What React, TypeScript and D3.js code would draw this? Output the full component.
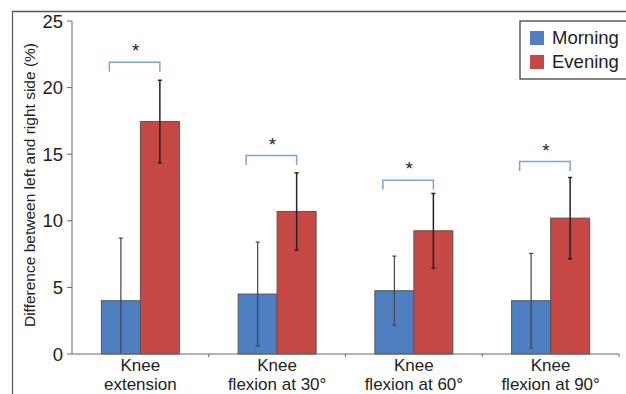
import React from "react";
import * as d3 from "d3";

const categories = [["Knee", "extension"], ["Knee", "flexion at 30°"], ["Knee", "flexion at 60°"], ["Knee", "flexion at 90°"]];
const morning = [4.0, 4.5, 4.75, 4.0];
const morningErr = [4.7, 3.9, 2.6, 3.55];
const evening = [17.45, 10.7, 9.25, 10.2];
const eveningErr = [3.1, 2.9, 2.8, 3.05];
const bracketLevels = [21.9, 14.9, 13.05, 14.45];
const yTicks = [0, 5, 10, 15, 20, 25];
const seriesNames = ["Morning", "Evening"];

const W = 626, H = 394;
const BLUE = "#4d7fc1";
const RED = "#c64845";
const FONT = "'Liberation Sans', Arial, Helvetica, sans-serif";

export default function App() {
  const x = d3.scaleBand<number>().domain(d3.range(categories.length)).range([72, 619]).paddingInner(0).paddingOuter(0);
  const y = d3.scaleLinear().domain([0, 25]).range([354, 21]);
  const barW = 39;
  const bottom = y(0);

  return (
    <svg width={W} height={H} style={{ position: "absolute", left: 0, top: 0, background: "#fff" }} fontFamily={FONT}>
      {/* frame */}
      <line x1={12} y1={11.5} x2={W} y2={11.5} stroke="#555" strokeWidth={1.5} />
      <line x1={12.5} y1={11} x2={12.5} y2={H} stroke="#555" strokeWidth={1.2} />

      {/* y label */}
      <text transform={`translate(35,185) rotate(-90)`} textAnchor="middle" fontSize={15.5} fill="#222">
        Difference between left and right side (%)
      </text>

      {/* y axis */}
      <line x1={72} y1={y(25)} x2={72} y2={bottom} stroke="#666" strokeWidth={1} />
      {yTicks.map((t) => (
        <g key={t}>
          <line x1={67} x2={72} y1={y(t)} y2={y(t)} stroke="#666" />
          <text x={63} y={y(t)} dy="0.36em" textAnchor="end" fontSize={18.5} fill="#222">{t}</text>
        </g>
      ))}

      {/* bars */}
      {categories.map((c, i) => {
        const cx = x(i)! + x.bandwidth() / 2;
        const bx = cx - barW;
        const rx = cx;
        const bc = bx + barW / 2;
        const rc = rx + barW / 2;
        const mTop = y(morning[i] + morningErr[i]);
        const mBot = y(Math.max(0, morning[i] - morningErr[i]));
        const eTop = y(evening[i] + eveningErr[i]);
        const eBot = y(evening[i] - eveningErr[i]);
        const bl = y(bracketLevels[i]);
        const bL = cx - 31;
        const bR = cx + 19.5;
        return (
          <g key={i}>
            <rect x={bx} y={y(morning[i])} width={barW} height={bottom - y(morning[i])} fill={BLUE} stroke="#555" strokeWidth={1} />
            <rect x={rx} y={y(evening[i])} width={barW} height={bottom - y(evening[i])} fill={RED} stroke="#555" strokeWidth={1} />
            {/* morning error */}
            <line x1={bc} x2={bc} y1={mTop} y2={mBot} stroke="#444" strokeWidth={1.2} />
            <line x1={bc - 2} x2={bc + 2} y1={mTop} y2={mTop} stroke="#444" strokeWidth={1.2} />
            {morning[i] - morningErr[i] > 0 && (
              <line x1={bc - 2} x2={bc + 2} y1={mBot} y2={mBot} stroke="#444" strokeWidth={1.2} />
            )}
            {/* evening error */}
            <line x1={rc} x2={rc} y1={eTop} y2={eBot} stroke="#222" strokeWidth={1.5} />
            <line x1={rc - 2} x2={rc + 2} y1={eTop} y2={eTop} stroke="#222" strokeWidth={1.5} />
            <line x1={rc - 2} x2={rc + 2} y1={eBot} y2={eBot} stroke="#222" strokeWidth={1.5} />
            {/* bracket */}
            <path d={`M${bL},${bl + 9.5}V${bl}H${bR}V${bl + 9.5}`} fill="none" stroke="#7ea1dc" strokeWidth={1.5} />
            <text x={(bL + bR) / 2 + 1} y={bl - 5} textAnchor="middle" fontSize={19} fill="#222">*</text>
            {/* category label */}
            <text textAnchor="middle" fontSize={17} fill="#222">
              <tspan x={cx} y={371}>{c[0]}</tspan>
              <tspan x={cx} y={390}>{c[1]}</tspan>
            </text>
          </g>
        );
      })}

      {/* x axis */}
      <line x1={72} x2={619} y1={bottom} y2={bottom} stroke="#666" />
      {d3.range(1, categories.length + 1).map((i) => {
        const xx = i < categories.length ? x(i)! : 619;
        return <line key={i} x1={xx} x2={xx} y1={bottom} y2={bottom + 3} stroke="#666" />;
      })}

      {/* legend */}
      <rect x={520} y={21} width={120} height={58} fill="#fff" stroke="#333" strokeWidth={1.2} />
      {seriesNames.map((n, i) => (
        <g key={n}>
          <rect x={530} y={31 + i * 24} width={14} height={14} fill={i === 0 ? BLUE : RED} />
          <text x={552} y={44 + i * 24} fontSize={18.5} fill="#222">{n}</text>
        </g>
      ))}
    </svg>
  );
}
